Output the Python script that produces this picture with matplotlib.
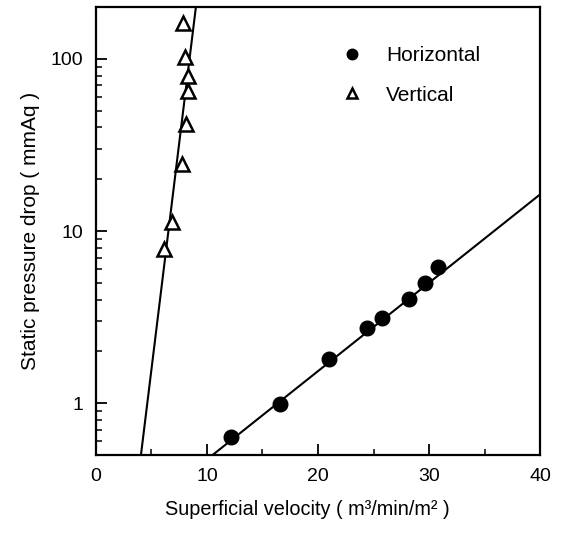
'''
static pressure drop against superficial velocity for horizontal and vertical flow
'''
## Imports
import numpy as np
import matplotlib.pyplot as plt

## data
horizontal_velocity = [12.2, 16.6, 21.0, 24.4, 25.8, 28.2, 29.6, 30.8]
horizontal_drop = [0.64, 0.99, 1.81, 2.72, 3.11, 4.03, 4.97, 6.17]
vertical_velocity = [6.13, 6.82, 7.72, 8.11, 8.26, 8.26, 8.05, 7.81]
vertical_drop = [7.9, 11.3, 24.5, 41.8, 65.3, 79.5, 102.9, 160.8]
## fitted lines, end points
horizontal_fit_x = [10.5, 40.0]
horizontal_fit_y = [0.5, 16.3]
vertical_fit_x = [4.05, 9.0]
vertical_fit_y = [0.5, 200.0]

def main() -> None:
    plt.rcParams['font.family'] = ['Liberation Sans', 'DejaVu Sans']
    fig = plt.figure(figsize=(5.61, 5.33), dpi=100)
    ax = fig.add_axes([0.1711, 0.1463, 0.7915, 0.8406])

    ## fitted lines
    ax.plot(horizontal_fit_x, horizontal_fit_y, color='black', lw=1.5)
    ax.plot(vertical_fit_x, vertical_fit_y, color='black', lw=1.5)
    ## data points
    ax.plot(horizontal_velocity, horizontal_drop, 'o', color='black', ms=10.5,
            label='Horizontal')
    ax.plot(vertical_velocity, vertical_drop, '^', mfc='white', mec='black',
            mew=1.8, ms=10.5, label='Vertical')

    ## axes
    ax.set_yscale('log')
    ax.set_xlim(0, 40)
    ax.set_ylim(0.5, 200)
    ax.set_xticks([0, 10, 20, 30, 40])
    ax.set_xticks([5, 15, 25, 35], minor=True)
    ax.set_yticks([1, 10, 100])
    ax.set_yticklabels(['1', '10', '100'])
    ax.tick_params(which='major', direction='in', length=8, width=1.3,
                   labelsize=14, pad=9)
    ax.tick_params(which='minor', direction='in', length=4, width=1.1)
    ax.tick_params(axis='y', which='minor', labelleft=False)
    for s in ax.spines.values():
        s.set_linewidth(1.6)

    ax.set_xlabel('Superficial velocity ( m³/min/m² )', fontsize=14.3, labelpad=11)
    ax.xaxis.label.set_x(0.477)
    ax.set_ylabel('Static pressure drop ( mmAq )', fontsize=15, labelpad=8)

    ax.legend(loc='upper left', bbox_to_anchor=(0.512, 0.955), frameon=False,
              fontsize=15, markerscale=0.72, handlelength=1.0,
              handletextpad=1.1, labelspacing=1.0)

    fig.savefig('out.png', dpi=100)

if __name__ == "__main__":
    main()
